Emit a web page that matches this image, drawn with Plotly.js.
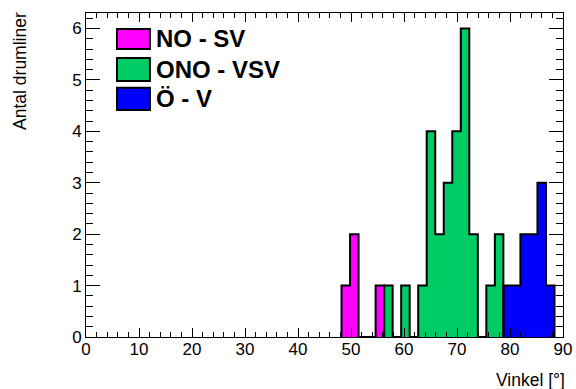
<!DOCTYPE html>
<html>
<head>
<meta charset="utf-8">
<script src="https://cdn.plot.ly/plotly-3.0.1.min.js"></script>
<style>html,body{margin:0;padding:0;background:#fff;}#chart{width:576px;height:389px;}</style>
</head>
<body>
<div id="chart"></div>
<script>
// Histogram: 56 bins over 0..90 degrees
const xMin = 0, xMax = 90, nBins = 56;
const seriesNames = ["NO - SV", "ONO - VSV", "Ö - V"];
const seriesColors = ["#ff00ff", "#00cc66", "#0000ff"];
// bin indices (0-based) and counts per series
const noSvBins = [30, 31, 34];
const noSvCounts = [1, 2, 1];
const onoVsvBins = [35, 37, 39, 40, 41, 42, 43, 44, 45, 47, 48];
const onoVsvCounts = [1, 1, 1, 4, 2, 3, 4, 6, 2, 1, 2];
const oVBins = [49, 50, 51, 52, 53, 54];
const oVCounts = [1, 1, 2, 2, 3, 1];
const xTicks = [0, 10, 20, 30, 40, 50, 60, 70, 80, 90];
const yTicks = [0, 1, 2, 3, 4, 5, 6];

const bw = (xMax - xMin) / nBins;
const seriesBins = [noSvBins, onoVsvBins, oVBins];
const seriesCounts = [noSvCounts, onoVsvCounts, oVCounts];
const font = "Liberation Sans, Arial, Helvetica, sans-serif";

const traces = [];
seriesBins.forEach((bins, s) => {
  traces.push({
    type: "bar",
    x: bins.map(i => xMin + (i + 0.5) * bw),
    y: seriesCounts[s],
    width: bins.map(() => bw),
    marker: {color: seriesColors[s], line: {width: 0}},
    name: seriesNames[s],
    showlegend: false,
    hoverinfo: "x+y"
  });
});
// step outlines
seriesBins.forEach((bins, s) => {
  const first = Math.min(...bins), last = Math.max(...bins);
  const xs = [], ys = [];
  xs.push(xMin + first * bw); ys.push(0);
  for (let i = first; i <= last; i++) {
    const k = bins.indexOf(i);
    xs.push(xMin + i * bw); ys.push(k >= 0 ? seriesCounts[s][k] : 0);
  }
  xs.push(xMin + (last + 1) * bw); ys.push(0);
  traces.push({
    type: "scatter", mode: "lines", x: xs, y: ys,
    line: {shape: "hv", color: "#000", width: 2},
    showlegend: false, hoverinfo: "skip"
  });
});

const shapes = [], annotations = [];
const legY = [[0.889, 0.951], [0.790, 0.861], [0.701, 0.769]];
seriesNames.forEach((n, s) => {
  shapes.push({type: "rect", xref: "paper", yref: "paper",
    x0: 0.065, x1: 0.134, y0: legY[s][0], y1: legY[s][1],
    fillcolor: seriesColors[s], line: {color: "#000", width: 2}});
  annotations.push({xref: "paper", yref: "paper", x: 0.143,
    y: (legY[s][0] + legY[s][1]) / 2, xanchor: "left", yanchor: "middle",
    text: "<b>" + n + "</b>", showarrow: false,
    font: {family: font, size: 24, color: "#000"}});
});
annotations.push({xref: "paper", yref: "paper", x: -0.138, y: 1.01,
  xanchor: "center", yanchor: "top", textangle: -90, text: "Antal drumliner",
  showarrow: false, font: {family: font, size: 17.5, color: "#000"}});
annotations.push({xref: "paper", yref: "paper", x: 1.008, y: -0.133,
  xanchor: "right", yanchor: "middle", text: "Vinkel [°]",
  showarrow: false, font: {family: font, size: 17.5, color: "#000"}});

const layout = {
  width: 576, height: 389,
  margin: {l: 86, r: 13, t: 13, b: 52, pad: 0},
  paper_bgcolor: "#fff", plot_bgcolor: "#fff",
  barmode: "overlay", bargap: 0,
  showlegend: false,
  font: {family: font, size: 17, color: "#000"},
  xaxis: {range: [xMin, xMax], tickvals: xTicks, ticks: "inside", ticklen: 9,
    tickcolor: "#000", tickwidth: 1, showline: true, linecolor: "#000", linewidth: 1,
    mirror: "ticks", showgrid: false, zeroline: false, ticklabelstandoff: -3,
    minor: {dtick: 2, ticks: "inside", ticklen: 5, tickcolor: "#000", showgrid: false},
    tickfont: {family: font, size: 17, color: "#000"}},
  yaxis: {range: [0, 6.3], tickvals: yTicks, ticks: "inside", ticklen: 14,
    tickcolor: "#000", tickwidth: 1, showline: true, linecolor: "#000", linewidth: 1,
    mirror: "ticks", showgrid: false, zeroline: false,
    minor: {dtick: 0.2, ticks: "inside", ticklen: 7, tickcolor: "#000", showgrid: false},
    tickfont: {family: font, size: 17, color: "#000"}},
  shapes: shapes,
  annotations: annotations
};
Plotly.newPlot("chart", traces, layout, {staticPlot: true});
</script>
</body>
</html>
